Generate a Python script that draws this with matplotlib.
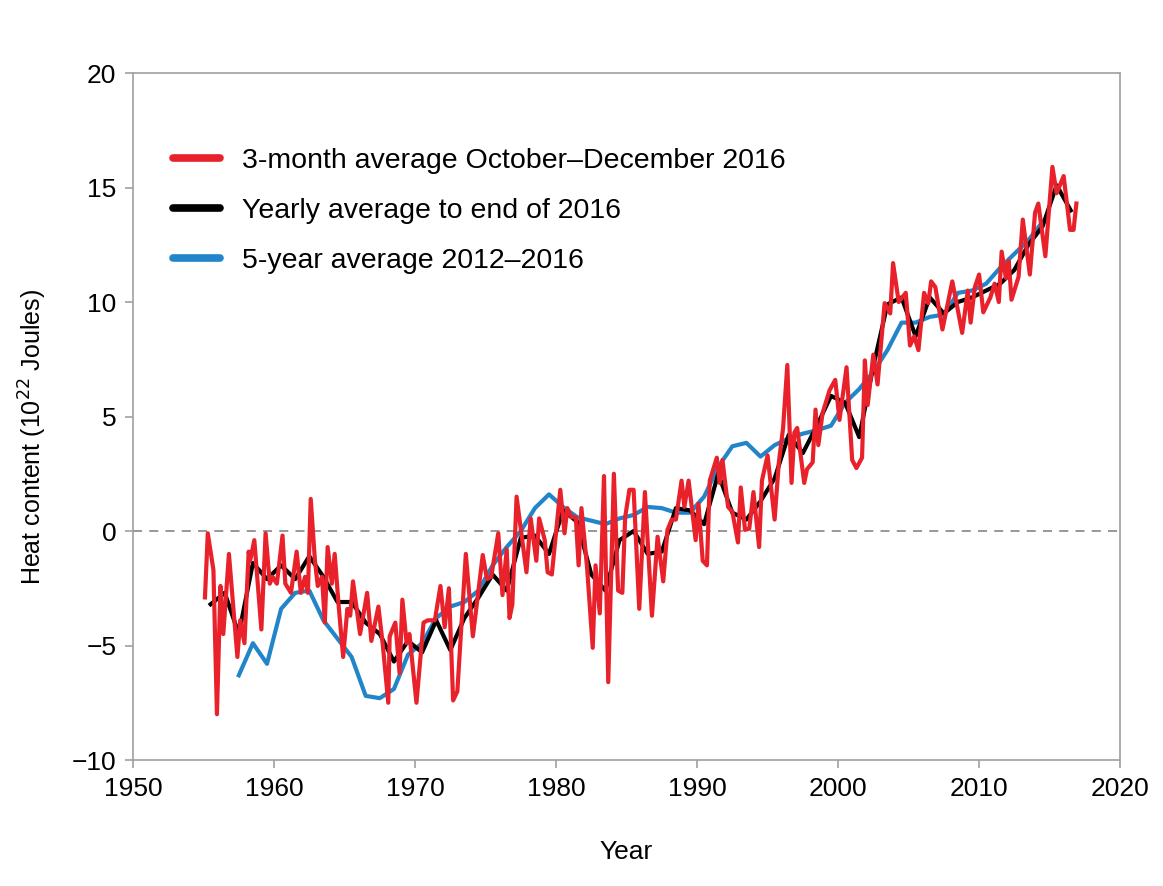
import numpy as np
import matplotlib
matplotlib.use("Agg")
import matplotlib.pyplot as plt
from matplotlib.lines import Line2D

plt.rcParams['font.family'] = ['Liberation Sans', 'DejaVu Sans']

# 3-month average (vertex by vertex)
red_years = [1955.1, 1955.3, 1955.7, 1955.95, 1956.2, 1956.4, 1956.8, 1957.4, 1957.6, 1957.9,
             1958.2, 1958.3, 1958.6, 1959.1, 1959.4, 1959.7, 1959.9, 1960.2, 1960.6, 1960.8,
             1961.2, 1961.6, 1961.9, 1962.2, 1962.4, 1962.6, 1962.9, 1963.1, 1963.4, 1963.6,
             1963.8, 1964.1, 1964.3, 1964.6, 1964.9, 1965.2, 1965.4, 1965.6, 1966.1, 1966.6,
             1966.9, 1967.4, 1967.7, 1968.1, 1968.2, 1968.6, 1968.9, 1969.1, 1969.4, 1969.6,
             1970.1, 1970.6, 1970.9, 1971.4, 1971.8, 1972.1, 1972.4, 1972.7, 1973.0, 1973.6,
             1974.1, 1974.8, 1975.1, 1975.4, 1975.9, 1976.2, 1976.5, 1976.7, 1976.9, 1977.2,
             1977.9, 1978.2, 1978.6, 1978.8, 1979.2, 1979.4, 1979.7, 1980.3, 1980.6, 1980.8,
             1981.1, 1981.4, 1981.6, 1981.8, 1982.2, 1982.6, 1982.8, 1983.1, 1983.4, 1983.7,
             1984.1, 1984.4, 1984.7, 1984.9, 1985.2, 1985.5, 1985.9, 1986.3, 1986.8, 1987.2,
             1987.6, 1987.9, 1988.2, 1988.5, 1988.9, 1989.1, 1989.4, 1989.9, 1990.1, 1990.4,
             1990.7, 1990.9, 1991.4, 1991.6, 1991.8, 1992.2, 1992.5, 1992.9, 1993.1, 1993.4,
             1993.7, 1994.0, 1994.4, 1994.6, 1995.0, 1995.5, 1995.8, 1996.1, 1996.4, 1996.7,
             1996.9, 1997.1, 1997.6, 1997.8, 1998.2, 1998.4, 1998.6, 1998.9, 1999.4, 1999.8,
             2000.1, 2000.6, 2001.0, 2001.3, 2001.7, 2001.9, 2002.1, 2002.5, 2002.8, 2003.3,
             2003.7, 2003.9, 2004.3, 2004.8, 2005.1, 2005.4, 2005.7, 2006.1, 2006.4, 2006.6,
             2006.9, 2007.4, 2008.1, 2008.4, 2008.8, 2009.2, 2009.4, 2009.7, 2010.0, 2010.3,
             2010.8, 2011.1, 2011.4, 2011.6, 2011.9, 2012.1, 2012.3, 2012.8, 2013.1, 2013.6,
             2013.97, 2014.2, 2014.7, 2015.2, 2015.5, 2016.0, 2016.45, 2016.7, 2016.9]
red_vals = [-2.9, -0.1, -1.7, -8.0, -2.4, -4.5, -1.0, -5.5, -3.9, -4.9,
            -0.9, -1.3, -0.4, -4.3, -0.1, -2.3, -2.0, -2.3, -0.2, -2.3,
            -2.7, -0.9, -2.7, -2.0, -2.7, 1.4, -1.3, -2.4, -2.0, -4.0,
            -0.7, -2.3, -1.0, -3.4, -5.5, -3.4, -3.7, -2.2, -4.5, -2.7,
            -4.8, -3.3, -4.9, -7.5, -4.6, -4.0, -6.2, -3.0, -4.9, -4.5,
            -7.5, -4.0, -3.9, -3.9, -2.4, -4.2, -2.5, -7.4, -7.0, -1.0,
            -4.6, -1.05, -2.1, -2.0, -0.1, -2.8, -0.8, -3.8, -3.2, 1.5,
            -1.8, 0.55, -1.3, 0.55, -0.4, -1.8, -1.9, 1.8, -0.1, 1.0,
            0.6, 0.6, -1.5, 1.0, -1.6, -5.1, -1.5, -3.6, 2.4, -6.6,
            2.5, -2.6, -2.7, 0.6, 1.8, 1.8, -3.4, 1.7, -3.7, -0.25,
            -2.2, 0.05, 0.5, 0.5, 2.2, 1.05, 2.2, -0.4, 1.2, -1.3,
            -1.5, 2.2, 3.2, 2.1, 3.1, 1.05, 0.85, -0.5, 1.9, 0.05,
            0.1, 1.7, -0.7, 2.2, 3.3, 0.5, 3.0, 4.5, 7.25, 2.1,
            4.3, 4.5, 2.1, 2.7, 3.0, 5.3, 3.75, 5.15, 6.15, 6.6,
            4.85, 7.15, 3.1, 2.75, 3.2, 7.45, 5.5, 7.7, 6.4, 9.95,
            9.5, 11.7, 10.0, 10.4, 8.1, 8.5, 7.9, 10.4, 9.95, 10.9,
            10.65, 8.8, 10.9, 9.95, 8.65, 10.5, 9.1, 10.65, 11.2, 9.55,
            10.2, 10.8, 10.0, 12.2, 11.05, 11.8, 10.1, 11.1, 13.6, 11.2,
            13.9, 14.3, 12.0, 15.9, 14.75, 15.5, 13.15, 13.15, 14.3]

# yearly average
black_years = np.arange(1955.5, 2017.0, 1.0)
black_vals = [-3.2, -2.7, -4.5, -1.4, -2.1, -1.5, -2.1, -1.1, -2.0, -3.1,
              -3.1, -4.0, -4.5, -5.7, -4.8, -5.3, -3.9, -5.2, -3.8, -2.9,
              -1.9, -2.6, -0.3, -0.2, -1.0, 0.9, 0.4, -1.9, -2.6, -0.4,
              0.0, -1.0, -0.9, 1.0, 0.9, 0.3, 2.5, 0.8, 0.5, 1.3,
              2.3, 4.2, 3.4, 4.6, 5.9, 5.6, 4.1, 7.2, 9.9, 10.2,
              8.5, 10.2, 9.5, 10.0, 10.2, 10.5, 10.8, 11.4, 12.5, 13.3,
              15.1, 14.0]

# 5-year average
blue_years = np.arange(1957.5, 2015.0, 1.0)
blue_vals = [-6.3, -4.9, -5.8, -3.4, -2.7, -2.6, -3.9, -4.7, -5.5, -7.2,
             -7.3, -6.9, -5.4, -4.9, -3.8, -3.3, -3.1, -2.6, -1.5, -0.7,
             0.0, 1.0, 1.6, 1.05, 0.6, 0.45, 0.3, 0.55, 0.7, 1.05,
             1.0, 0.8, 0.8, 1.5, 2.8, 3.7, 3.85, 3.25, 3.75, 4.05,
             4.25, 4.4, 4.6, 5.6, 6.2, 6.95, 7.9, 9.1, 9.1, 9.35,
             9.45, 10.4, 10.5, 10.8, 11.5, 12.1, 12.7, 13.5]

labels = ['3-month average October\u2013December 2016',
          'Yearly average to end of 2016',
          '5-year average 2012\u20132016']
red = '#E8212B'
blue = '#2385C9'
grey = '#A0A0A0'

fig = plt.figure(figsize=(11.63, 8.86), dpi=100)
ax = fig.add_axes([0.1144, 0.1422, 0.8487, 0.7754])

ax.axhline(0, color='#909090', lw=1.3, ls=(0, (5, 4)), zorder=1)
ax.plot(blue_years, blue_vals, color=blue, lw=3.0, zorder=2)
ax.plot(black_years, black_vals, color='black', lw=3.0, zorder=3)
ax.plot(red_years, red_vals, color=red, lw=3.0, zorder=4)

ax.set_xlim(1950, 2020)
ax.set_ylim(-10, 20)
ax.set_xticks(range(1950, 2021, 10))
ax.set_yticks(range(-10, 21, 5))
for s in ax.spines.values():
    s.set_color(grey)
    s.set_linewidth(1.2)
ax.tick_params(direction='out', length=6, width=1.2, color=grey, labelsize=19, pad=6)
ax.set_xlabel('Year', fontsize=19, labelpad=28)
ax.set_ylabel('Heat content (10$^{22}$ Joules)', fontsize=18, labelpad=14)
ax.yaxis.set_label_coords(-0.085, 0.47)

handles = [Line2D([0], [0], color=c, lw=5.5, solid_capstyle='round') for c in (red, 'black', blue)]
ax.legend(handles, labels, loc='upper left', bbox_to_anchor=(0.015, 0.928), frameon=False,
          fontsize=20.5, handlelength=1.65, handletextpad=0.75, labelspacing=0.84)

plt.savefig('out.png', dpi=100)
